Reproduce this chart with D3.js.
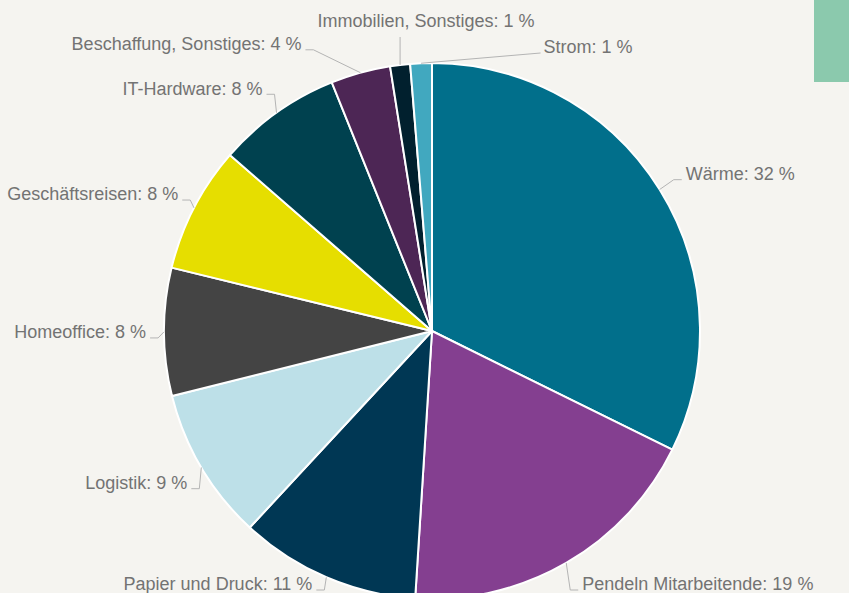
<!DOCTYPE html>
<html>
<head>
<meta charset="utf-8">
<script src="https://cdn.jsdelivr.net/npm/d3@7"></script>
<style>
  html, body { margin: 0; padding: 0; background: #f5f4f0; }
  svg { display: block; }
</style>
</head>
<body>
<svg id="chart" width="849" height="593"></svg>
<script>
// CO2 footprint by source, share in percent (clockwise from 12 o'clock)
const categories = [
  "Wärme",
  "Pendeln Mitarbeitende",
  "Papier und Druck",
  "Logistik",
  "Homeoffice",
  "Geschäftsreisen",
  "IT-Hardware",
  "Beschaffung, Sonstiges",
  "Immobilien, Sonstiges",
  "Strom"
];
const shares = [32.3, 18.7, 10.9, 9.2, 7.7, 7.6, 7.5, 3.6, 1.2, 1.3];
const sliceColors = [
  "#016f8b", "#843f90", "#003754", "#bde0e8", "#444444",
  "#e6de00", "#00414f", "#4d2655", "#01202e", "#41a8bf"
];

const width = 849, height = 593;
const cx = 432, cy = 331, radius = 268;
const fontSize = 18;
const textColor = "#737373";
const lineColor = "#b4b4b4";

const svg = d3.select("#chart");
svg.append("rect").attr("width", width).attr("height", height).attr("fill", "#f5f4f0");

// accent block in the upper right corner
svg.append("rect")
  .attr("x", width - 35).attr("y", 0)
  .attr("width", 35).attr("height", 82)
  .attr("fill", "#8bc9ad");

const data = categories.map((c, i) => ({ name: c, value: shares[i], color: sliceColors[i] }));
const total = d3.sum(data, d => d.value);
const pct = d3.format(".0f");

const pie = d3.pie().sort(null).value(d => d.value);
const arcs = pie(data);
const arc = d3.arc().innerRadius(0).outerRadius(radius);

const gPie = svg.append("g").attr("transform", `translate(${cx},${cy})`);
gPie.selectAll("path")
  .data(arcs)
  .join("path")
  .attr("d", arc)
  .attr("fill", d => d.data.color)
  .attr("stroke", "#ffffff")
  .attr("stroke-width", 2)
  .attr("stroke-linejoin", "round");

// ---- data labels with connectors ----
const gLines = svg.append("g");
const gText = svg.append("g")
  .attr("font-family", "'Liberation Sans', Arial, Helvetica, sans-serif")
  .attr("font-size", fontSize)
  .attr("fill", textColor);

const TAU = Math.PI * 2;
const topZone = 8 * Math.PI / 180;
const naturalR = radius + 30;
const attachR = { left: radius + 14, right: radius + 24 };

const labels = arcs.map((d, i) => {
  const a = (d.startAngle + d.endAngle) / 2;
  const node = gText.append("text")
    .text(`${d.data.name}: ${pct(d.data.value / total * 100)} %`);
  return {
    d, a, node,
    w: node.node().getComputedTextLength(),
    edge: [cx + radius * Math.sin(a), cy - radius * Math.cos(a)],
    zone: (a < topZone || a > TAU - topZone) ? "top" : (Math.sin(a) >= 0 ? "right" : "left")
  };
});

// labels for the thin slices at 12 o'clock: stacked rows above the pie
const tops = labels.filter(l => l.zone === "top")
  .sort((p, q) => Math.min(p.a, TAU - p.a) - Math.min(q.a, TAU - q.a));
tops.forEach((l, k) => { l.y = cy - radius - 16 - 26 * k; });
let topLeft = Infinity, topRight = -Infinity;
for (let k = tops.length - 1; k >= 0; k--) {
  const l = tops[k];
  if (k === tops.length - 1) {
    l.x0 = cx - 6 - l.w / 2;
  } else {
    l.x0 = tops[k + 1].x0 + tops[k + 1].w + 9;
  }
  topLeft = Math.min(topLeft, l.x0);
  topRight = Math.max(topRight, l.x0 + l.w);
  l.node.attr("x", l.x0).attr("y", l.y).attr("dy", "0.35em").attr("text-anchor", "start");
  if (k === tops.length - 1) {
    gLines.append("path")
      .attr("d", `M${l.edge[0]},${l.edge[1]}L${l.edge[0]},${l.y + 16}`);
  } else {
    gLines.append("path")
      .attr("d", `M${l.edge[0]},${l.edge[1]}L${l.x0 - 3},${l.y + 6}`);
  }
}

// side labels: vertical position from the slice angle, pushed apart if crowded
["left", "right"].forEach(side => {
  const list = labels.filter(l => l.zone === side);
  list.forEach(l => {
    l.y = cy - naturalR * Math.cos(l.a);
    l.y = Math.max(fontSize / 2 + 2, Math.min(height - fontSize / 2, l.y));
  });
  list.sort((p, q) => p.y - q.y);
  for (let i = 1; i < list.length; i++) {
    if (list[i].y < list[i - 1].y + 22) list[i].y = list[i - 1].y + 22;
  }
  for (let i = list.length - 1; i >= 0; i--) {
    const maxY = i === list.length - 1 ? height - fontSize / 2 : list[i + 1].y - 22;
    if (list[i].y > maxY) list[i].y = maxY;
  }
  const sgn = side === "right" ? 1 : -1;
  const R = attachR[side];
  list.forEach(l => {
    const yA = l.y + 6;
    const dy = yA - cy;
    let ax = cx + sgn * Math.sqrt(Math.max(R * R - dy * dy, 0));
    if (side === "right") {
      ax = Math.max(ax, l.edge[0] + 12);
      if (l.y < cy - radius && tops.length) ax = Math.max(ax, topRight + 12);
    } else {
      ax = Math.min(ax, l.edge[0] - 10);
      if (l.y < cy - radius && tops.length) ax = Math.min(ax, topLeft - 12);
    }
    l.node
      .attr("x", ax + sgn * 4)
      .attr("y", l.y)
      .attr("dy", "0.35em")
      .attr("text-anchor", side === "right" ? "start" : "end");
    gLines.append("path")
      .attr("d", `M${ax},${yA}L${ax - sgn * 8},${yA}L${l.edge[0]},${l.edge[1]}`);
  });
});

gLines.selectAll("path")
  .attr("fill", "none")
  .attr("stroke", lineColor)
  .attr("stroke-width", 1);
</script>
</body>
</html>
